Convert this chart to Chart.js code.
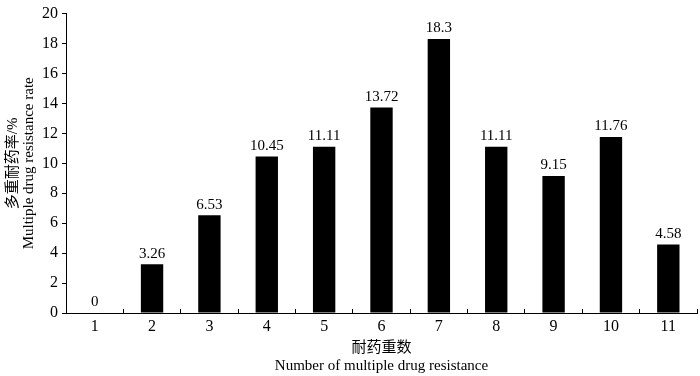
<!DOCTYPE html>
<html>
<head>
<meta charset="utf-8">
<script src="https://cdn.jsdelivr.net/npm/chart.js@4/dist/chart.umd.min.js"></script>
<style>
  html, body { margin: 0; padding: 0; background: #fff; }
  #wrap { width: 700px; height: 376px; }
</style>
</head>
<body>
<div id="wrap"><canvas id="mdrChart"></canvas></div>
<script>
// data
const categories = ['1', '2', '3', '4', '5', '6', '7', '8', '9', '10', '11'];
const rates = [0, 3.26, 6.53, 10.45, 11.11, 13.72, 18.3, 11.11, 9.15, 11.76, 4.58];
const yTicks = [0, 2, 4, 6, 8, 10, 12, 14, 16, 18, 20];
const yTitle = ['多重耐药率/%', 'Multiple drug resistance rate'];
const xTitle = ['耐药重数', 'Number of multiple drug resistance'];

const FONT = '"Liberation Serif", "Times New Roman", "Noto Sans CJK SC", serif';

// value labels above each bar
const barLabels = {
    id: 'barLabels',
    afterDatasetsDraw(chart) {
        const ctx = chart.ctx;
        const meta = chart.getDatasetMeta(0);
        ctx.save();
        ctx.font = '15px ' + FONT;
        ctx.fillStyle = '#000';
        ctx.textAlign = 'center';
        ctx.textBaseline = 'bottom';
        meta.data.forEach((bar, i) => {
            ctx.fillText(String(rates[i]), bar.x, bar.y - 3);
        });
        ctx.restore();
    }
};

document.addEventListener('DOMContentLoaded', () => {
    const ctx = document.getElementById('mdrChart');
    new Chart(ctx, {
        type: 'bar',
        data: {
            labels: categories,
            datasets: [{
                data: rates,
                backgroundColor: '#000',
                borderWidth: 0,
                barPercentage: 0.39,
                categoryPercentage: 1
            }]
        },
        options: {
            responsive: true,
            maintainAspectRatio: false,
            animation: false,
            layout: { padding: { top: 10, right: 3, left: 0, bottom: 0 } },
            plugins: {
                legend: { display: false },
                tooltip: { enabled: false }
            },
            scales: {
                x: {
                    offset: true,
                    grid: {
                        offset: true,
                        drawOnChartArea: false,
                        drawTicks: true,
                        tickLength: -4,
                        color: '#000'
                    },
                    border: { display: true, color: '#000', width: 1 },
                    ticks: {
                        color: '#000',
                        font: { family: FONT, size: 16 },
                        padding: 8,
                        maxRotation: 0
                    },
                    title: {
                        display: true,
                        text: xTitle,
                        color: '#000',
                        font: { family: FONT, size: 15, lineHeight: 1.2 },
                        padding: { top: 0, bottom: 1 }
                    },
                    afterFit(scale) { scale.height = 63; }
                },
                y: {
                    min: 0,
                    max: 20,
                    afterBuildTicks(scale) {
                        scale.ticks = yTicks.map(v => ({ value: v }));
                    },
                    grid: {
                        drawOnChartArea: false,
                        drawTicks: true,
                        tickLength: 4,
                        color: '#000'
                    },
                    border: { display: true, color: '#000', width: 1 },
                    ticks: {
                        color: '#000',
                        font: { family: FONT, size: 16 },
                        padding: 4
                    },
                    title: {
                        display: true,
                        text: yTitle,
                        color: '#000',
                        font: { family: FONT, size: 15, lineHeight: 1.07 },
                        padding: { top: 5, bottom: 0 }
                    },
                    afterFit(scale) { scale.width = 66; }
                }
            }
        },
        plugins: [barLabels]
    });
});
</script>
</body>
</html>
